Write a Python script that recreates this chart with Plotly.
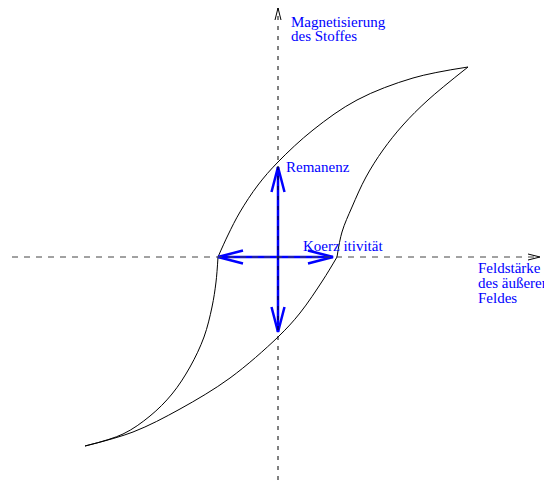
import plotly.graph_objects as go

# Hysteresis loop (x: field strength, y: magnetisation)
desc_upper_x = [190, 135, 79, 35, 0, -20, -38, -50, -60]
desc_upper_y = [190, 179, 157, 127, 95, 72, 45, 22, 0]
desc_lower_x = [-60, -62, -66, -74, -88, -106, -128, -155, -193]
desc_lower_y = [0, -25, -50, -80, -110, -137, -159, -177, -189]
asc_lower_x = [-193, -145, -98, -48, 0, 22, 45, 59]
asc_lower_y = [-189, -175, -152, -121, -80, -56, -23, 0]
asc_upper_x = [59, 64, 74, 88, 105, 125, 150, 190]
asc_upper_y = [0, 25, 50, 80, 107, 132, 157, 190]

remanence_pos = 90
remanence_neg = -75
coercivity_neg = -60
coercivity_pos = 55

x_axis_range = [-278, 266]
y_axis_range = [-223, 257]
x_axis_line = [-266, 262]
y_axis_line = [-223, 249]

labels_axis_y = ["Magnetisierung", "des Stoffes"]
labels_axis_x = ["Feldstärke", "des äußeren", "Feldes"]
label_rem = "Remanenz"
label_coer = "Koerz itivität"

BLUE = "#0000ff"
FONT = "Liberation Serif, Times New Roman, serif"

fig = go.Figure()

def add_line(xs, ys, color, width, dash=None, shape="linear"):
    fig.add_trace(go.Scatter(x=xs, y=ys, mode="lines",
                             line=dict(color=color, width=width, dash=dash, shape=shape),
                             hoverinfo="skip", showlegend=False))

def chevron(tipx, tipy, dx, dy, length, half):
    bx, by = tipx - dx * length, tipy - dy * length
    px, py = -dy * half, dx * half
    return [bx + px, tipx, bx - px], [by + py, tipy, by - py]

# hysteresis curve
for xs, ys in [(desc_upper_x, desc_upper_y), (desc_lower_x, desc_lower_y),
               (asc_lower_x, asc_lower_y), (asc_upper_x, asc_upper_y)]:
    add_line(xs, ys, "black", 1, shape="spline")

# blue arrows
add_line([0, 0], [remanence_neg, remanence_pos], BLUE, 2.5)
add_line([coercivity_neg, coercivity_pos], [0, 0], BLUE, 2.5)
for (tx, ty, dx, dy) in [(0, remanence_pos, 0, 1), (0, remanence_neg, 0, -1),
                         (coercivity_neg, 0, -1, 0), (coercivity_pos, 0, 1, 0)]:
    cx, cy = chevron(tx, ty, dx, dy, 25, 6.5)
    add_line(cx, cy, BLUE, 2.5)

# dashed axes
add_line(x_axis_line, [0, 0], "#444444", 1, dash="6px,6px")
add_line([0, 0], y_axis_line, "black", 1, dash="4px,6px")
cx, cy = chevron(x_axis_line[1], 0, 1, 0, 12, 3)
add_line(cx, cy, "black", 1)
cx, cy = chevron(0, y_axis_line[1], 0, 1, 12, 3)
add_line(cx, cy, "black", 1)

def text(x, y, s):
    fig.add_annotation(x=x, y=y, text=s, showarrow=False, xanchor="left", yanchor="middle",
                       font=dict(family=FONT, size=15, color=BLUE), borderpad=0)

for i, s in enumerate(labels_axis_y):
    text(12, 235 - 14 * i, s)
for i, s in enumerate(labels_axis_x):
    text(199, -11 - 15 * i, s)
text(7, 90, label_rem)
text(24, 11, label_coer)

fig.update_layout(width=544, height=480, margin=dict(l=0, r=0, t=0, b=0),
                  paper_bgcolor="white", plot_bgcolor="white",
                  xaxis=dict(range=x_axis_range, visible=False, fixedrange=True),
                  yaxis=dict(range=y_axis_range, visible=False, fixedrange=True),
                  showlegend=False)
fig.write_html("out.html", config={"displayModeBar": False},
               post_script="document.body.style.margin='0';document.body.style.overflow='hidden';")
